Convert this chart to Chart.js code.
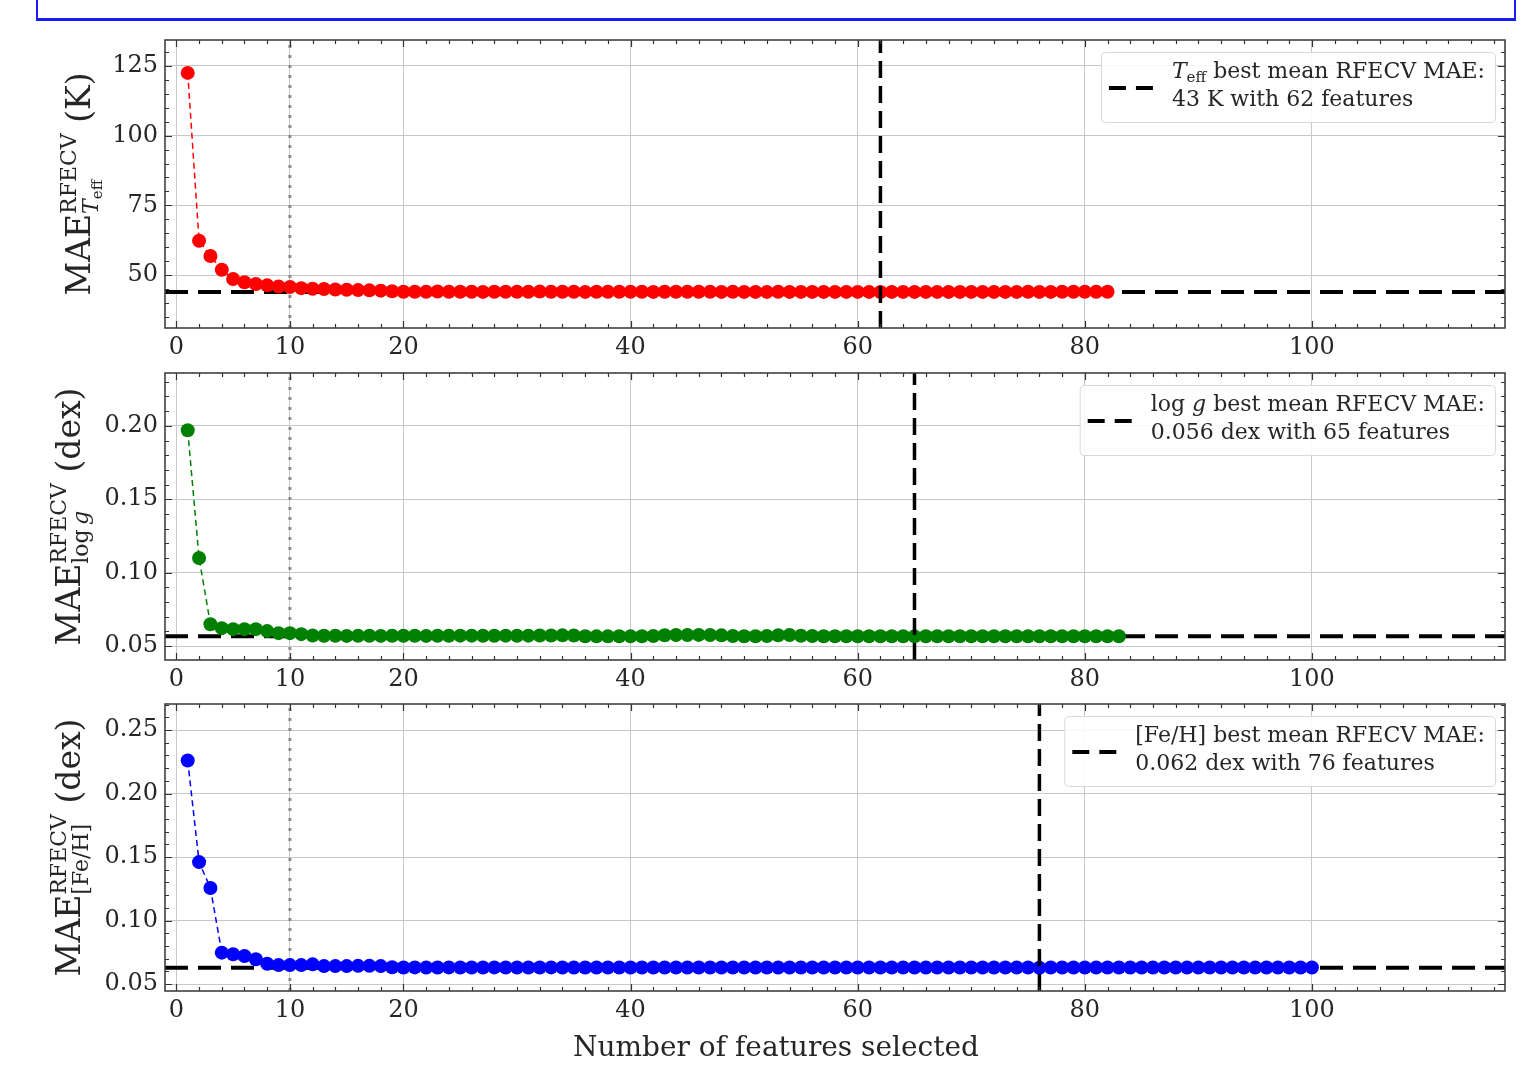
<!DOCTYPE html>
<html><head><meta charset="utf-8">
<script src="https://cdn.jsdelivr.net/npm/chart.js@4.4.1/dist/chart.umd.min.js"></script>
<style>
html,body{margin:0;padding:0;background:#fff;width:1531px;height:1079px;overflow:hidden;position:relative}
canvas{position:absolute;left:0}
#topbox{position:absolute;left:36px;top:-4px;width:1476px;height:20px;border:2px solid #1a1aff;border-bottom-width:3px}
</style></head><body>
<div id="topbox"></div>
<canvas id="c1" width="1531" height="366" style="top:0px"></canvas>
<canvas id="c2" width="1531" height="331" style="top:366px"></canvas>
<canvas id="c3" width="1531" height="382" style="top:697px"></canvas>
<script>
// ---------- data ----------
const xTicks = [0, 10, 20, 40, 60, 80, 100];
const teffYTicks = [50, 75, 100, 125];
const loggYTicks = [0.05, 0.10, 0.15, 0.20];
const fehYTicks = [0.05, 0.10, 0.15, 0.20, 0.25];

const teffMAE = [122.5, 62.3, 56.8, 51.9, 48.6, 47.4, 46.8, 46.3, 45.9, 45.7,
  45.3, 45.1, 45.0, 44.8, 44.7, 44.6, 44.5, 44.4, 44.2, 44.0,
  44.0, 44.0, 44.1, 44.0, 44.0, 44.0, 43.95, 44.0, 44.0, 44.0,
  44.0, 44.05, 44.0, 44.0, 44.0, 43.95, 44.0, 44.0, 44.0, 44.0,
  44.0, 43.95, 44.0, 44.0, 44.0, 44.0, 44.0, 43.95, 44.0, 43.95,
  43.95, 43.95, 44.0, 43.95, 43.95, 43.95, 43.95, 43.95, 43.95, 43.95,
  43.95, 43.9, 43.95, 43.95, 43.95, 43.95, 43.95, 43.95, 43.95, 43.95,
  43.95, 43.95, 43.95, 43.95, 44.0, 43.95, 43.95, 44.0, 44.0, 44.0,
  44.0, 44.0];
const loggMAE = [0.197, 0.110, 0.0649, 0.0622, 0.0615, 0.0615, 0.0615, 0.0602, 0.0588, 0.0588,
  0.0581, 0.0572, 0.0570, 0.0570, 0.0569, 0.0570, 0.0570, 0.0569, 0.0570, 0.0570,
  0.0570, 0.0569, 0.0570, 0.0570, 0.0571, 0.0571, 0.0570, 0.0570, 0.0571, 0.0570,
  0.0571, 0.0572, 0.0572, 0.0573, 0.0572, 0.0567, 0.0566, 0.0566, 0.0567, 0.0566,
  0.0567, 0.0568, 0.0574, 0.0575, 0.0575, 0.0576, 0.0575, 0.0573, 0.0568, 0.0567,
  0.0567, 0.0568, 0.0574, 0.0575, 0.0570, 0.0568, 0.0567, 0.0567, 0.0567, 0.0567,
  0.0567, 0.0567, 0.0567, 0.0567, 0.0566, 0.0567, 0.0567, 0.0567, 0.0567, 0.0567,
  0.0567, 0.0567, 0.0567, 0.0567, 0.0567, 0.0567, 0.0567, 0.0567, 0.0567, 0.0567,
  0.0567, 0.0567, 0.0567];
const fehMAE = [0.226, 0.146, 0.1256, 0.0747, 0.0734, 0.0721, 0.0695, 0.0660, 0.0649, 0.0649,
  0.0649, 0.0655, 0.0641, 0.0641, 0.0641, 0.0643, 0.0643, 0.0641, 0.0632, 0.0630,
  0.0631, 0.0630, 0.0630, 0.0631, 0.0630, 0.0630, 0.0630, 0.0631, 0.0630, 0.0630,
  0.0630, 0.0630, 0.0631, 0.0630, 0.0630, 0.0630, 0.0630, 0.0630, 0.0630, 0.0630,
  0.0630, 0.0630, 0.0630, 0.0630, 0.0630, 0.0630, 0.0630, 0.0630, 0.0630, 0.0630,
  0.0630, 0.0630, 0.0630, 0.0630, 0.0630, 0.0630, 0.0630, 0.0630, 0.0630, 0.0630,
  0.0630, 0.0630, 0.0630, 0.0630, 0.0630, 0.0630, 0.0630, 0.0630, 0.0630, 0.0630,
  0.0630, 0.0630, 0.0630, 0.0630, 0.0630, 0.0628, 0.0630, 0.0630, 0.0630, 0.0630,
  0.0630, 0.0630, 0.0630, 0.0630, 0.0630, 0.0630, 0.0630, 0.0630, 0.0630, 0.0630,
  0.0630, 0.0630, 0.0630, 0.0630, 0.0630, 0.0630, 0.0630, 0.0630, 0.0630, 0.0630];

const teffBest = 43.9, teffBestN = 62;
const loggBest = 0.0566, loggBestN = 65;
const fehBest = 0.0628, fehBestN = 76;
const refLineN = 10;
const xRange = [-1, 117];
const teffYRange = [31, 134.3];
const loggYRange = [0.0405, 0.236];
const fehYRange = [0.0445, 0.2705];

// ---------- drawing ----------
const SERIF = "'DejaVu Serif', serif";
Chart.defaults.font.family = SERIF;
Chart.defaults.color = '#262626';

function segWidth(ctx, segs) {
  let w = 0;
  for (const s of segs) { ctx.font = s.f; w += ctx.measureText(s.t).width; }
  return w;
}
function drawSegs(ctx, segs, x, y) {
  for (const s of segs) {
    ctx.font = s.f;
    ctx.fillText(s.t, x, y + (s.dy || 0));
    x += ctx.measureText(s.t).width;
  }
  return x;
}

const panelPlugin = {
  id: 'panel',
  afterDatasetsDraw(chart, args, o) {
    const ctx = chart.ctx;
    const {left, right, top, bottom} = chart.chartArea;
    const xs = chart.scales.x, ys = chart.scales.y;
    ctx.save();
    // tick marks (inward, all four sides)
    ctx.strokeStyle = '#333';
    ctx.lineWidth = 1.2;
    ctx.beginPath();
    for (let k = 0; k <= 116; k += 2) {
      const px = Math.round(xs.getPixelForValue(k)) + 0.5;
      const len = xTicks.includes(k) ? 7 : 4;
      ctx.moveTo(px, bottom); ctx.lineTo(px, bottom - len);
      ctx.moveTo(px, top); ctx.lineTo(px, top + len);
    }
    const step = o.minorY;
    const k0 = Math.ceil(ys.min / step - 1e-9), k1 = Math.floor(ys.max / step + 1e-9);
    for (let k = k0; k <= k1; k++) {
      const v = k * step;
      const major = o.yTicks.some(t => Math.abs(t - v) < step * 1e-3);
      const py = Math.round(ys.getPixelForValue(v)) + 0.5;
      const len = major ? 7 : 4;
      ctx.moveTo(left, py); ctx.lineTo(left + len, py);
      ctx.moveTo(right, py); ctx.lineTo(right - len, py);
    }
    ctx.stroke();
    // frame
    ctx.strokeStyle = '#404040';
    ctx.lineWidth = 1.6;
    ctx.strokeRect(left, top, right - left, bottom - top);

    // legend
    const lf = '22px ' + SERIF;
    ctx.textBaseline = 'alphabetic';
    ctx.textAlign = 'left';
    const w1 = segWidth(ctx, o.legend1);
    ctx.font = lf;
    const w2 = ctx.measureText(o.legend2).width;
    const tw = Math.max(w1, w2);
    const bx1 = right - 10, by0 = top + 12, bh = 70;
    const bx0 = bx1 - (8 + 44 + 19 + tw + 10);
    ctx.fillStyle = 'rgba(255,255,255,0.85)';
    ctx.strokeStyle = '#d9d9d9';
    ctx.lineWidth = 1;
    ctx.beginPath();
    ctx.roundRect(bx0 + 0.5, by0 + 0.5, bx1 - bx0, bh, 4);
    ctx.fill(); ctx.stroke();
    ctx.strokeStyle = '#000';
    ctx.lineWidth = 4;
    ctx.setLineDash([17, 10]);
    ctx.beginPath();
    ctx.moveTo(bx0 + 8, by0 + 36); ctx.lineTo(bx0 + 52, by0 + 36);
    ctx.stroke();
    ctx.setLineDash([]);
    ctx.fillStyle = '#262626';
    const tx = bx0 + 8 + 44 + 19;
    drawSegs(ctx, o.legend1, tx, by0 + 26);
    ctx.font = lf;
    ctx.fillText(o.legend2, tx, by0 + 54);
    ctx.restore();
  },
  afterDraw(chart, args, o) {
    const ctx = chart.ctx;
    const {top, bottom} = chart.chartArea;
    ctx.save();
    ctx.fillStyle = '#262626';
    ctx.textBaseline = 'alphabetic';
    ctx.textAlign = 'left';
    // rotated y label
    const items = o.ylabel;
    let total = 0;
    for (const it of items) {
      if (it.stack) total += Math.max(segWidth(ctx, it.sup), segWidth(ctx, it.sub));
      else total += segWidth(ctx, [it]);
    }
    const cy = (top + bottom) / 2;
    ctx.translate(o.labelX, cy);
    ctx.rotate(-Math.PI / 2);
    let u = -total / 2;
    for (const it of items) {
      if (it.stack) {
        const a = segWidth(ctx, it.sup), b = segWidth(ctx, it.sub);
        drawSegs(ctx, it.sup, u, it.supDy);
        drawSegs(ctx, it.sub, u, it.subDy);
        u += Math.max(a, b);
      } else {
        u = drawSegs(ctx, [it], u, 0);
      }
    }
    ctx.restore();
    if (o.xlabel) {
      ctx.save();
      ctx.fillStyle = '#262626';
      ctx.font = '28px ' + SERIF;
      ctx.textAlign = 'center';
      ctx.textBaseline = 'alphabetic';
      ctx.fillText(o.xlabel, 776, bottom + 65);
      ctx.restore();
    }
  }
};

function noPad(s) { s.paddingTop = 0; s.paddingBottom = 0; s.paddingLeft = 0; s.paddingRight = 0; }

function makeChart(id, c) {
  const pts = c.values.map((v, i) => ({x: i + 1, y: v}));
  return new Chart(document.getElementById(id), {
    type: 'scatter',
    data: {
      datasets: [
        { data: [{x: refLineN, y: c.yRange[0]}, {x: refLineN, y: c.yRange[1]}], showLine: true,
          borderColor: '#8c8c8c', borderWidth: 3, borderDash: [3, 7], pointRadius: 0, order: 4 },
        { data: [{x: xRange[0], y: c.best}, {x: xRange[1], y: c.best}], showLine: true,
          borderColor: '#000', borderWidth: 4, borderDash: [23, 10], pointRadius: 0, order: 3 },
        { data: pts, showLine: true, borderColor: c.color, borderWidth: 1.5, borderDash: [6, 4],
          pointRadius: 7, pointBackgroundColor: c.color, pointBorderColor: c.color, pointBorderWidth: 0,
          order: 2 },
        { data: [{x: c.bestN, y: c.yRange[0]}, {x: c.bestN, y: c.yRange[1]}], showLine: true,
          borderColor: '#000', borderWidth: 3.5, borderDash: [17, 8], pointRadius: 0, order: 1 }
      ]
    },
    options: {
      responsive: false, animation: false, events: [],
      layout: { padding: { left: 0, right: 26, top: c.padTop, bottom: 0 } },
      plugins: { legend: { display: false }, tooltip: { enabled: false },
        panel: { minorY: c.minorY, yTicks: c.yTicks, legend1: c.legend1, legend2: c.legend2,
                 ylabel: c.ylabel, labelX: c.labelX, xlabel: c.xlabel } },
      scales: {
        x: { type: 'linear', min: xRange[0], max: xRange[1],
             afterBuildTicks: s => { s.ticks = xTicks.map(v => ({value: v})); },
             afterFit: s => { s.height = c.axisH; noPad(s); },
             grid: { color: '#c8c8c8', lineWidth: 1, drawTicks: false },
             border: { display: false },
             ticks: { autoSkip: false, maxRotation: 0, padding: 5, font: { size: 24 }, color: '#262626',
                      callback: v => String(v) } },
        y: { type: 'linear', min: c.yRange[0], max: c.yRange[1],
             afterBuildTicks: s => { s.ticks = c.yTicks.map(v => ({value: v})); },
             afterFit: s => { s.width = 165; noPad(s); },
             grid: { color: '#c8c8c8', lineWidth: 1, drawTicks: false },
             border: { display: false },
             ticks: { autoSkip: false, padding: 7, font: { size: 24 }, color: '#262626',
                      callback: c.fmt } }
      }
    },
    plugins: [panelPlugin]
  });
}

const F = (s) => s + 'px ' + SERIF;
const FI = (s) => 'italic ' + s + 'px ' + SERIF;

makeChart('c1', {
  values: teffMAE, color: '#ff0000', best: teffBest, bestN: teffBestN,
  yRange: teffYRange, yTicks: teffYTicks, minorY: 5, fmt: v => String(v),
  padTop: 40, axisH: 38, labelX: 90,
  legend1: [{t: 'T', f: FI(22)}, {t: 'eff', f: F(15), dy: 4}, {t: ' best mean RFECV MAE:', f: F(22)}],
  legend2: '43 K with 62 features',
  ylabel: [{t: 'MAE', f: F(33)},
           {stack: true, sup: [{t: 'RFECV', f: F(22)}], supDy: -14,
            sub: [{t: 'T', f: FI(22)}, {t: 'eff', f: F(15), dy: 4}], subDy: 8},
           {t: ' (K)', f: F(33)}]
});
makeChart('c2', {
  values: loggMAE, color: '#008000', best: loggBest, bestN: loggBestN,
  yRange: loggYRange, yTicks: loggYTicks, minorY: 0.01, fmt: v => v.toFixed(2),
  padTop: 6, axisH: 37, labelX: 80,
  legend1: [{t: 'log ', f: F(22)}, {t: 'g', f: FI(22)}, {t: ' best mean RFECV MAE:', f: F(22)}],
  legend2: '0.056 dex with 65 features',
  ylabel: [{t: 'MAE', f: F(33)},
           {stack: true, sup: [{t: 'RFECV', f: F(22)}], supDy: -14,
            sub: [{t: 'log', f: F(22)}, {t: '\u2009g', f: FI(22)}], subDy: 8},
           {t: ' (dex)', f: F(33)}]
});
makeChart('c3', {
  values: fehMAE, color: '#0000ff', best: fehBest, bestN: fehBestN,
  yRange: fehYRange, yTicks: fehYTicks, minorY: 0.01, fmt: v => v.toFixed(2),
  padTop: 6, axisH: 88, labelX: 80,
  legend1: [{t: '[Fe/H] best mean RFECV MAE:', f: F(22)}],
  legend2: '0.062 dex with 76 features',
  ylabel: [{t: 'MAE', f: F(33)},
           {stack: true, sup: [{t: 'RFECV', f: F(22)}], supDy: -14,
            sub: [{t: '[Fe/H]', f: F(22)}], subDy: 8},
           {t: ' (dex)', f: F(33)}],
  xlabel: 'Number of features selected'
});
</script>
</body></html>
